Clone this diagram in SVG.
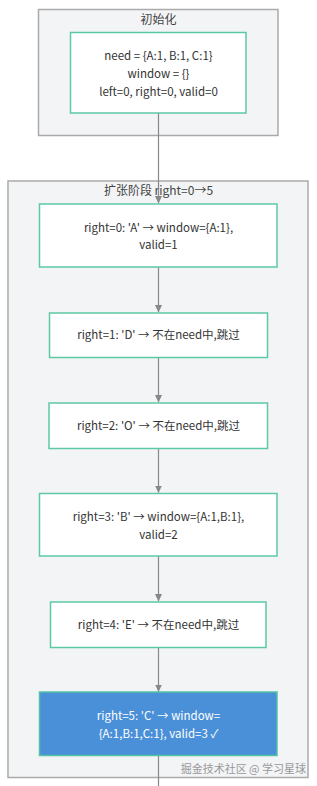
<svg xmlns="http://www.w3.org/2000/svg" width="317" height="786" viewBox="0 0 317 786">
<style>
.cl{fill:#f3f4f6;stroke:#aaaaaa;stroke-width:1.5}
.nd{fill:#ffffff;stroke:#5cc8a5;stroke-width:1.5}
.hl{fill:#4a90d9;stroke:#52c2a5;stroke-width:1.5}
text{font-family:"Noto Sans CJK SC","Liberation Sans",sans-serif;font-size:11.5px;fill:#333333;text-anchor:middle}
.w{fill:#ffffff}
.ct{font-size:12px;fill:#444}
.wm{font-size:11px;fill:#999999;text-anchor:end}
.ln{stroke:#888888;stroke-width:1.2;fill:none}
</style>
<defs>
<marker id="ah" markerWidth="8" markerHeight="8" refX="7" refY="4" orient="auto" markerUnits="userSpaceOnUse">
<path d="M0,0.5 L7.5,4 L0,7.5 Z" fill="#888888"/>
</marker>
</defs>
<g id="cluster-init">
<rect class="cl" x="38.5" y="9.5" width="239.5" height="126"/>
<text class="ct" x="158.5" y="24">初始化</text>
</g>
<g id="cluster-expand">
<rect class="cl" x="8" y="181" width="300" height="596.5"/>
<text class="ct" x="158.5" y="195">扩张阶段 right=0→5</text>
</g>
<g id="connectors">
<path class="ln" d="M158.5,113 V203" marker-end="url(#ah)"/>
<path class="ln" d="M158.5,267 V312" marker-end="url(#ah)"/>
<path class="ln" d="M158.5,357.5 V402" marker-end="url(#ah)"/>
<path class="ln" d="M158.5,448.5 V492.5" marker-end="url(#ah)"/>
<path class="ln" d="M158.5,556 V601" marker-end="url(#ah)"/>
<path class="ln" d="M158.5,647.5 V691.5" marker-end="url(#ah)"/>
<path class="ln" d="M158.5,755.5 V786"/>
</g>
<g id="init">
<rect class="nd" x="70.5" y="32.5" width="175.5" height="80.5"/>
<text x="158.5" y="60">need = {A:1, B:1, C:1}</text>
<text x="158.5" y="78">window = {}</text>
<text x="158.5" y="96">left=0, right=0, valid=0</text>
</g>
<g id="r0">
<rect class="nd" x="39.5" y="204" width="237.5" height="63"/>
<text x="158.5" y="232">right=0: 'A' → window={A:1},</text>
<text x="158.5" y="249">valid=1</text>
</g>
<g id="r1">
<rect class="nd" x="49.5" y="313" width="218" height="44.5"/>
<text x="158.5" y="339">right=1: 'D' → 不在need中,跳过</text>
</g>
<g id="r2">
<rect class="nd" x="49" y="403" width="218.5" height="45.5"/>
<text x="158.5" y="430">right=2: 'O' → 不在need中,跳过</text>
</g>
<g id="r3">
<rect class="nd" x="39.5" y="493.5" width="237.5" height="62.5"/>
<text x="158.5" y="521">right=3: 'B' → window={A:1,B:1},</text>
<text x="158.5" y="539">valid=2</text>
</g>
<g id="r4">
<rect class="nd" x="50.5" y="602" width="215.5" height="45.5"/>
<text x="158.5" y="629">right=4: 'E' → 不在need中,跳过</text>
</g>
<g id="r5">
<rect class="hl" x="39.5" y="692" width="237.5" height="63.5"/>
<text class="w" x="158.5" y="720">right=5: 'C' → window=</text>
<text class="w" x="158.5" y="738">{A:1,B:1,C:1}, valid=3 ✓</text>
</g>
<text class="wm" x="306" y="773">掘金技术社区 @ 学习星球</text>
</svg>
